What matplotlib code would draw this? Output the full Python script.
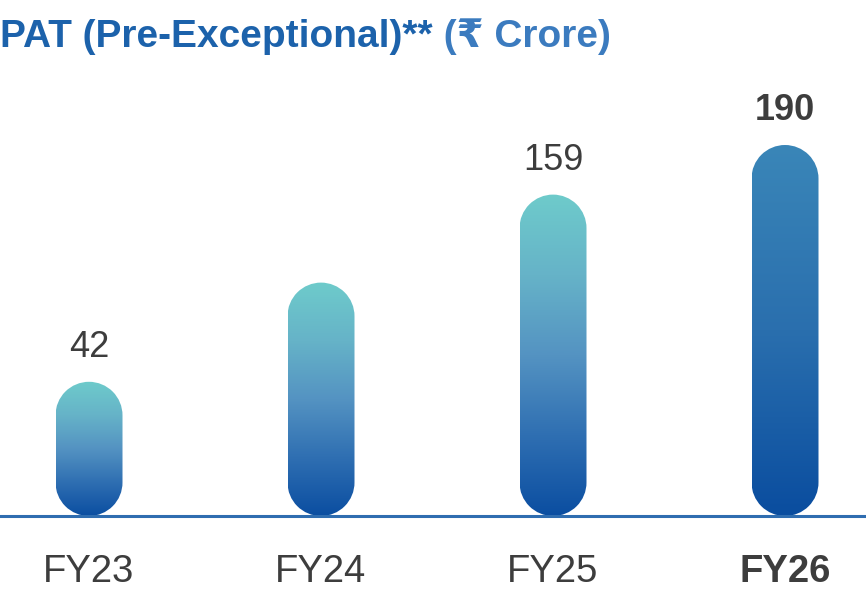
import numpy as np
import matplotlib
matplotlib.use("Agg")
from matplotlib import pyplot as plt
from matplotlib.colors import LinearSegmentedColormap
from matplotlib.patches import PathPatch
from matplotlib.path import Path

# data
years = ["FY23", "FY24", "FY25", "FY26"]
pat = [42, 104, 159, 190]
value_labels = ["42", "", "159", "190"]
bold = [False, False, False, True]

FONT = ["Liberation Sans", "DejaVu Sans", "Noto Sans"]
TEXT = "#3d3d3d"

# pixel layout helpers (figure is 866 x 600 px)
W, H = 866, 600
x0_px, step_px, bar_px = 89, 232, 67
base_px = 516          # baseline from top
px_per_unit = 1.60

fig = plt.figure(figsize=(W / 100, H / 100), dpi=100)
ax = fig.add_axes([0, 0, 1, 1])
ax.set_xlim(-x0_px / step_px, (W - x0_px) / step_px)
ax.set_ylim(-(H - base_px) / px_per_unit, base_px / px_per_unit)
ax.axis("off")

width = bar_px / step_px
cap = bar_px / px_per_unit          # rounded ends add one bar-width of height
rx, ry = width / 2, cap / 2


def pill(xc, top):
    # capsule from 0 to top, semicircular ends (in pixel space)
    up = Path.arc(0, 180)
    down = Path.arc(180, 360)
    v_up = up.vertices * [rx, ry] + [xc, top - ry]
    v_dn = down.vertices * [rx, ry] + [xc, ry]
    verts = np.vstack([v_up, v_dn, v_up[:1]])
    codes = np.concatenate([up.codes, [Path.LINETO], down.codes[1:],
                            [Path.CLOSEPOLY]])
    return Path(verts, codes)


normal = LinearSegmentedColormap.from_list(
    "n", [(0, "#0b4ea1"), (0.25, "#2f6fb2"), (0.5, "#5493c2"),
          (0.75, "#66b3c8"), (1, "#6ecbcb")])
latest = LinearSegmentedColormap.from_list(
    "l", [(0, "#0a4d9f"), (0.5, "#2a6fae"), (1, "#3a86b8")])
grad = np.linspace(0, 1, 256).reshape(-1, 1)

for i, (yr, v) in enumerate(zip(years, pat)):
    top = v + cap
    patch = PathPatch(pill(i, top), facecolor="none", edgecolor="none")
    ax.add_patch(patch)
    im = ax.imshow(grad, cmap=latest if bold[i] else normal, origin="lower",
                   extent=(i - width / 2, i + width / 2, 0, top),
                   aspect="auto", interpolation="bilinear")
    im.set_clip_path(patch)
    w = "bold" if bold[i] else "normal"
    if value_labels[i]:
        ax.text(i, top + 25 / px_per_unit, value_labels[i], ha="center",
                va="baseline", fontsize=26, color=TEXT, family=FONT,
                fontweight=w)
    ax.text(i, -66 / px_per_unit, yr, ha="center", va="baseline",
            fontsize=27.5, color=TEXT, family=FONT, fontweight=w)

ax.axhline(0, color="#2f6db0", lw=2.2, zorder=5)

t = fig.text(0.0, 1 - 47 / H, "PAT (Pre-Exceptional)**", ha="left",
             va="baseline", fontsize=28, fontweight="bold",
             color="#1c62ab", family=FONT)
ax.annotate(" (₹ Crore)", xy=(1, 0), xycoords=t, ha="left", va="bottom",
            fontsize=28, fontweight="bold", color="#3b7bbf",
            family=FONT, annotation_clip=False)

fig.savefig("out.png", dpi=100)
